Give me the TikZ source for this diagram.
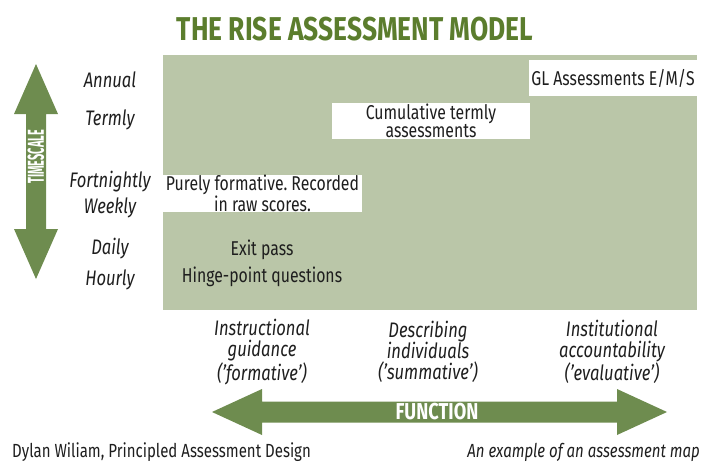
\documentclass[tikz,border=0pt]{standalone}
\usepackage{fontspec}
\setmainfont{Fira Sans}[FakeStretch=0.79]
\newfontfamily\titlefont{Fira Sans}[FakeStretch=0.8]
\frenchspacing

\definecolor{panelgreen}{HTML}{BAC6A8}
\definecolor{arrowgreen}{HTML}{6E8C4F}
\definecolor{titlegreen}{HTML}{5B7D2D}
\definecolor{ink}{HTML}{1E1E1E}

\tikzset{
    scale label/.style={anchor=base, inner sep=0, text=ink, font=\fontsize{21}{21}\selectfont\itshape},
    use label/.style={align=center, inner sep=0, text=ink, font=\fontsize{21}{21}\selectfont\itshape},
    entry/.style={align=center, inner sep=0, text=ink, font=\fontsize{20}{16}\selectfont},
    whitebox/.style={entry, fill=white, minimum height=36},
    arrow text/.style={inner sep=0, text=white, font=\fontsize{22}{22}\selectfont\bfseries}
}

\begin{document}
\begin{tikzpicture}[x=1pt, y=-1pt]
    \useasboundingbox (0, 0) rectangle (702, 461);

    % title
    \node[anchor=base, inner sep=0, text=titlegreen, font=\titlefont\fontsize{33}{33}\selectfont\bfseries] (title) at (355, 40) {THE RISE ASSESSMENT MODEL};

    % the map itself
    \fill[panelgreen] (163, 55) rectangle (697, 310);
    \node[whitebox, minimum width=168] (gl) at (613, 78) {GL Assessments E/M/S};
    \node[whitebox, minimum width=198] (termly) at (431, 121) {Cumulative termly\\assessments};
    \node[whitebox, minimum width=199, minimum height=37] (pure) at (262.5, 193.5) {Purely formative. Recorded\\in raw scores.};
    \node[entry, anchor=base] (exit) at (262, 255) {Exit pass};
    \node[entry, anchor=base] (hinge) at (262, 282) {Hinge-point questions};

    % timescale down the side
    \fill[arrowgreen] (36, 64) -- (58, 114) -- (46, 114) -- (46, 229) -- (58, 229) -- (36, 279)
        -- (14, 229) -- (26, 229) -- (26, 114) -- (14, 114) -- cycle;
    \node[arrow text, rotate=90, font=\fontsize{23}{23}\selectfont\bfseries] (timescale) at (36, 157) {\scalebox{0.6}[1]{TIMESCALE}};

    \node[scale label] (annual) at (110, 87) {Annual};
    \node[scale label] (termly label) at (110, 125) {Termly};
    \node[scale label] (fortnightly) at (110, 187) {Fortnightly};
    \node[scale label] (weekly) at (110, 213) {Weekly};
    \node[scale label] (daily) at (110, 254) {Daily};
    \node[scale label] (hourly) at (110, 285) {Hourly};

    % function along the bottom
    \node[use label] (formative) at (262, 352) {Instructional\\guidance\\('formative')};
    \node[use label] (summative) at (428, 352) {Describing\\individuals\\('summative')};
    \node[use label] (evaluative) at (612, 352) {Institutional\\accountability\\('evaluative')};

    \fill[arrowgreen] (212, 412) -- (262, 389) -- (262, 401.5) -- (617, 401.5) -- (617, 389) -- (667, 412)
        -- (617, 435) -- (617, 422.5) -- (262, 422.5) -- (262, 435) -- cycle;
    \node[arrow text, font=\fontsize{23}{23}\selectfont\bfseries] (function) at (437, 412) {FUNCTION};

    % sources
    \node[entry, anchor=base west, font=\fontsize{19}{19}\selectfont] (source) at (12, 457) {Dylan Wiliam, Principled Assessment Design};
    \node[entry, anchor=base east, font=\fontsize{19}{19}\selectfont\itshape] (caption) at (700, 457) {An example of an assessment map};
\end{tikzpicture}
\end{document}
